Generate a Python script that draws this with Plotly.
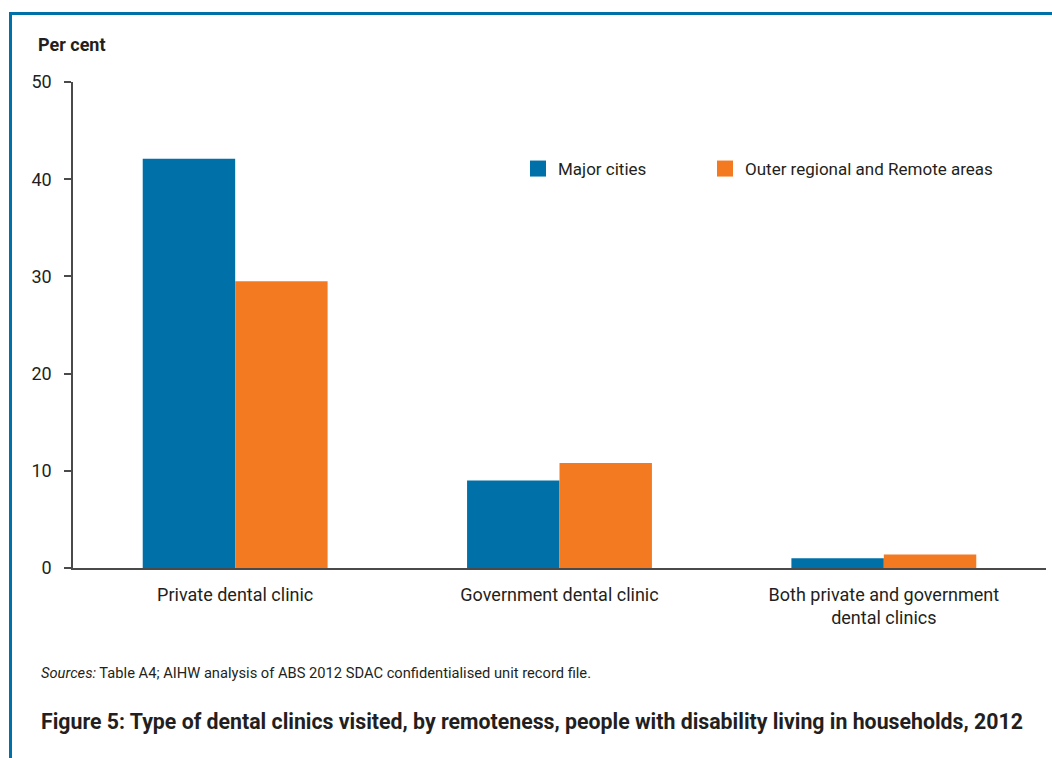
import plotly.graph_objects as go

# Data
categories = ["Private dental clinic", "Government dental clinic", "Both private and government<br>dental clinics"]
series_names = ["Major cities", "Outer regional and Remote areas"]
major_cities = [42.1, 9.0, 1.0]
outer_remote = [29.5, 10.8, 1.4]
y_ticks = [0, 10, 20, 30, 40, 50]

BLUE = "#0071A8"
ORANGE = "#F47A22"
TEXT = "#231F20"
AXIS = "#4a4a4a"
FONT = "Roboto, Arial, sans-serif"

W, H = 1052, 758
ML, MR, MT, MB = 73, 6, 82, 190
plot_w = W - ML - MR
plot_h = H - MT - MB


def px_to_paper_x(px):
    return (px - ML) / plot_w


def px_to_paper_y(py):
    return (H - MB - py) / plot_h


fig = go.Figure()
x_idx = list(range(len(categories)))
legend_ids = ["legend", "legend2"]
for name, vals, color, lg in [(series_names[0], major_cities, BLUE, legend_ids[0]),
                              (series_names[1], outer_remote, ORANGE, legend_ids[1])]:
    fig.add_trace(go.Bar(x=x_idx, y=vals, name=name, marker=dict(color=color, line=dict(width=0)),
                         showlegend=False))
    # legend swatch
    fig.add_trace(go.Scatter(x=[None], y=[None], mode="markers", name=name, legend=lg,
                             marker=dict(symbol="square", size=20, color=color)))

legend_style = dict(orientation="h", xref="paper", yref="paper", xanchor="left", yanchor="middle",
                    font=dict(family=FONT, size=17, color=TEXT),
                    bgcolor="rgba(0,0,0,0)", borderwidth=0)

fig.update_layout(
    width=W, height=H,
    margin=dict(l=ML, r=MR, t=MT, b=MB),
    paper_bgcolor="white", plot_bgcolor="white",
    barmode="group", bargap=0.43, bargroupgap=0,
    font=dict(family=FONT, size=18, color=TEXT),
    showlegend=True,
    legend=dict(x=px_to_paper_x(518), y=px_to_paper_y(169), **legend_style),
    legend2=dict(x=px_to_paper_x(705), y=px_to_paper_y(169), **legend_style),
    xaxis=dict(range=[-0.5, 2.5], tickmode="array", tickvals=x_idx, ticktext=categories,
               showline=True, linecolor=AXIS, linewidth=2, ticks="",
               showgrid=False, zeroline=False, ticklabelstandoff=9,
               tickfont=dict(family=FONT, size=18, color=TEXT)),
    yaxis=dict(range=[0, 50], tickmode="array", tickvals=y_ticks,
               showline=True, linecolor=AXIS, linewidth=1.5,
               ticks="outside", ticklen=7, tickwidth=1.5, tickcolor=AXIS,
               showgrid=False, zeroline=False, ticklabelstandoff=9,
               tickfont=dict(family=FONT, size=18, color=TEXT)),
)

# Frame lines (top and left)
fig.add_shape(type="line", xref="paper", yref="paper",
              x0=px_to_paper_x(10.5), x1=px_to_paper_x(W + 10),
              y0=px_to_paper_y(13.5), y1=px_to_paper_y(13.5),
              line=dict(color=BLUE, width=3))
fig.add_shape(type="line", xref="paper", yref="paper",
              x0=px_to_paper_x(10.5), x1=px_to_paper_x(10.5),
              y0=px_to_paper_y(12), y1=px_to_paper_y(H + 10),
              line=dict(color=BLUE, width=3))
# baseline extends left to meet the zero tick
fig.add_shape(type="line", xref="paper", yref="y",
              x0=px_to_paper_x(66), x1=0, y0=0, y1=0,
              line=dict(color=AXIS, width=2))

# Axis title, source note and figure caption
fig.add_annotation(text="<b>Per cent</b>", xref="paper", yref="paper",
                   x=px_to_paper_x(36), y=px_to_paper_y(45), xanchor="left", yanchor="middle",
                   showarrow=False, font=dict(family=FONT, size=18, color=TEXT))
fig.add_annotation(text="<i>Sources:</i> Table A4; AIHW analysis of ABS 2012 SDAC confidentialised unit record file.",
                   xref="paper", yref="paper",
                   x=px_to_paper_x(39), y=px_to_paper_y(673), xanchor="left", yanchor="middle",
                   showarrow=False, font=dict(family=FONT, size=14.7, color=TEXT))
fig.add_annotation(text="<b>Figure 5: Type of dental clinics visited, by remoteness, people with disability living in households, 2012</b>",
                   xref="paper", yref="paper",
                   x=px_to_paper_x(39), y=px_to_paper_y(721), xanchor="left", yanchor="middle",
                   showarrow=False, font=dict(family=FONT, size=21.3, color=TEXT))

fig.write_html("out.html")
